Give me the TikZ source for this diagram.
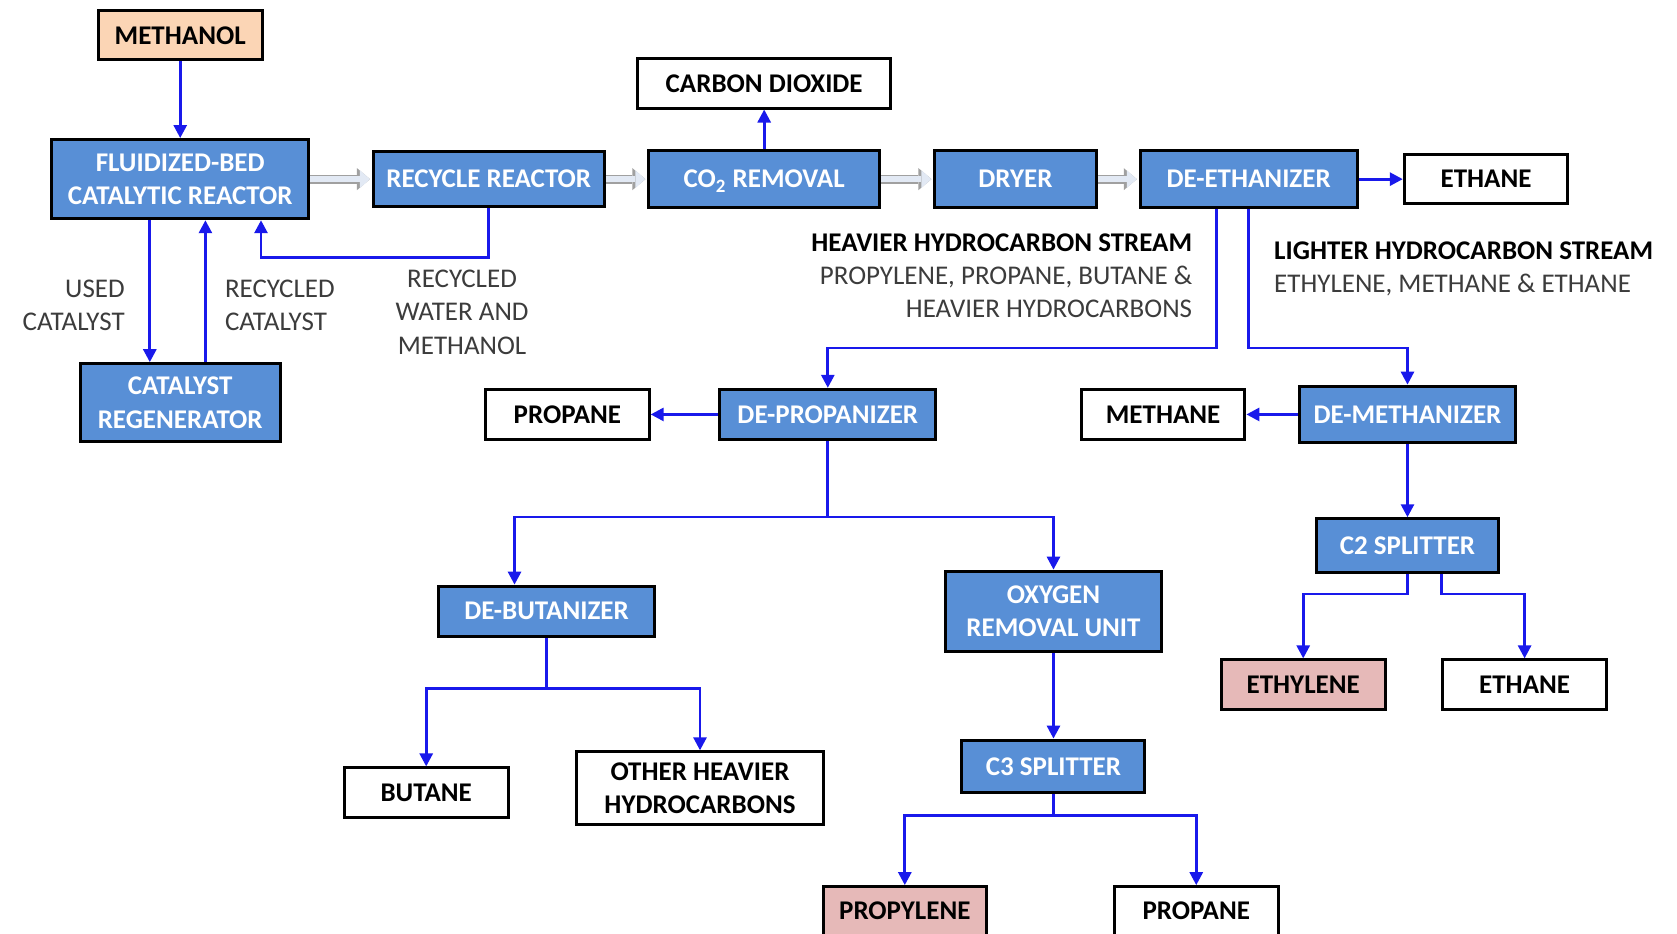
\documentclass[tikz,border=0pt]{standalone}
\usepackage{fontspec}
\setmainfont{Carlito}
\usetikzlibrary{arrows.meta}
\definecolor{unitblue}{RGB}{88,143,214}
\definecolor{feedpeach}{RGB}{251,213,181}
\definecolor{prodpink}{RGB}{230,185,184}
\definecolor{flowblue}{RGB}{25,25,235}
\definecolor{pipefill}{RGB}{226,233,244}
\definecolor{pipeline}{RGB}{160,160,160}
\definecolor{notegray}{RGB}{60,60,60}
\begin{document}
\begin{tikzpicture}[x=0.5348pt, y=-0.5348pt]
\tikzset{ >={Triangle[length=6.5pt,width=6.5pt]},
  box/.style={draw=black, line width=1.5pt, inner sep=0pt, align=center,
    font=\fontsize{13.5}{16.6}\selectfont\bfseries,
    minimum width=81.8pt, minimum height=24.6pt},
  unit/.style={box, fill=unitblue, text=white},
  feed/.style={box, fill=feedpeach},
  prod/.style={box, fill=prodpink},
  flow/.style={->, flowblue, line width=1.4pt},
  pipe/.style={draw=pipefill, line width=3.2pt, shorten >=0.9pt,
    -{Triangle[length=5pt,width=8.8pt,line width=0pt]},
    preaction={draw=pipeline, line width=4.4pt,
      -{Triangle[length=6.5pt,width=11pt,line width=0pt]}}},
  note/.style={text=notegray, inner sep=0pt,
    font=\fontsize{13.5}{16.6}\selectfont},
}
%\draw [lightgray, dashed](0,0) grid [step=50] (1568,873);
\fill [white] (0,0) rectangle (1568,873);
\useasboundingbox (0,0) rectangle (1568,873);

\node [feed] (meoh) at (168.5,33) {METHANOL};
\node [unit, minimum width=128.4pt, minimum height=39.6pt] (fbr) at (168.5,167.5) {FLUIDIZED-BED\\CATALYTIC REACTOR};
\node [unit, minimum width=115.5pt, minimum height=27.8pt] (rr) at (457,167.5) {RECYCLE REACTOR};
\node [unit, minimum width=115.5pt, minimum height=28.3pt, text depth=0pt] (co2) at (714.5,167.5) {CO\textsubscript{2} REMOVAL};
\node [box, minimum width=126.2pt] (cdo) at (714.5,78) {CARBON DIOXIDE};
\node [unit, minimum width=80.8pt, minimum height=28.3pt] (dryer) at (949.5,167.5) {DRYER};
\node [unit, minimum width=108.6pt, minimum height=28.3pt] (dee) at (1167.5,167.5) {DE-ETHANIZER};
\node [box] (ethane) at (1389.5,167.5) {ETHANE};

\node [unit, minimum width=100pt, minimum height=39pt] (catreg) at (168.5,376.5) {CATALYST\\REGENERATOR};
\node [box] (propane) at (530.5,387.5) {PROPANE};
\node [unit, minimum width=108pt, minimum height=25.1pt] (deprop) at (774,387.5) {DE-PROPANIZER};
\node [box] (methane) at (1087.5,387.5) {METHANE};
\node [unit, minimum width=108pt, minimum height=28.3pt] (demeth) at (1316,387.5) {DE-METHANIZER};
\node [unit, minimum width=90.9pt, minimum height=26.7pt] (ctwo) at (1316,510) {C2 SPLITTER};

\node [unit, minimum width=108pt, minimum height=25.1pt] (debut) at (511,571.5) {DE-BUTANIZER};
\node [unit, minimum width=108pt, minimum height=40.1pt] (oru) at (985,571.5) {OXYGEN\\REMOVAL UNIT};
\node [prod] (ethylene) at (1218.5,640) {ETHYLENE};
\node [box] (ethanelow) at (1425.5,640) {ETHANE};
\node [box] (butane) at (398.5,741) {BUTANE};
\node [box, minimum width=123.5pt, minimum height=36.4pt] (ohh) at (654.5,737) {OTHER HEAVIER\\HYDROCARBONS};
\node [unit, minimum width=91.5pt, minimum height=26.2pt] (cthree) at (985,716.5) {C3 SPLITTER};
\node [prod] (propylene) at (846,852) {PROPYLENE};
\node [box] (propanelow) at (1118.5,852) {PROPANE};

\draw [pipe] (fbr) -- (rr);
\draw [pipe] (rr) -- (co2);
\draw [pipe] (co2) -- (dryer);
\draw [pipe] (dryer) -- (dee);

\draw [flow] (meoh) -- (fbr);
\draw [flow] ([xshift=-15.2pt]fbr.south) -- ([xshift=-15.2pt]catreg.north);
\draw [flow] ([xshift=12.6pt]catreg.north) -- ([xshift=12.6pt]fbr.south);
\draw [flow] (rr.south) -- ++(0,46) -| ([xshift=40.4pt]fbr.south);
\draw [flow] (co2) -- (cdo);
\draw [flow] (dee) -- (ethane);
\draw [flow] ([xshift=-16pt]dee.south) -- ++(0,130) -| (deprop.north);
\draw [flow] (dee.south) -- ++(0,130) -| (demeth.north);
\draw [flow] (deprop) -- (propane);
\draw [flow] (demeth) -- (methane);
\draw [flow] (demeth) -- (ctwo);
\draw [flow] (ctwo.south) -- ++(0,19) -| (ethylene.north);
\draw [flow] ([xshift=17.1pt]ctwo.south) -- ++(0,19) -| (ethanelow.north);
\draw [flow] (deprop.south) -- ++(0,71) -| ([xshift=-16pt]debut.north);
\draw [flow] (deprop.south) -- ++(0,71) -| (oru.north);
\draw [flow] (debut.south) -- ++(0,47) -| (butane.north);
\draw [flow] (debut.south) -- ++(0,47) -| (ohh.north);
\draw [flow] (oru) -- (cthree);
\draw [flow] (cthree.south) -- ++(0,20) -| (propylene.north);
\draw [flow] (cthree.south) -- ++(0,20) -| (propanelow.north);

\node [note, anchor=east, align=right] (used) at (117,285.5) {USED\\CATALYST};
\node [note, anchor=west, align=left] (reccat) at (210,285.5) {RECYCLED\\CATALYST};
\node [note, align=center] (recwm) at (432,292) {RECYCLED\\WATER AND\\METHANOL};
\node [note, anchor=east, align=right] (heavy) at (1115,258) {\textcolor{black}{\bfseries HEAVIER HYDROCARBON STREAM}\\PROPYLENE, PROPANE, BUTANE \&\\HEAVIER HYDROCARBONS};
\node [note, anchor=west, align=left] (light) at (1191,251.5) {\textcolor{black}{\bfseries LIGHTER HYDROCARBON STREAM}\\ETHYLENE, METHANE \& ETHANE};

\end{tikzpicture}
\end{document}
